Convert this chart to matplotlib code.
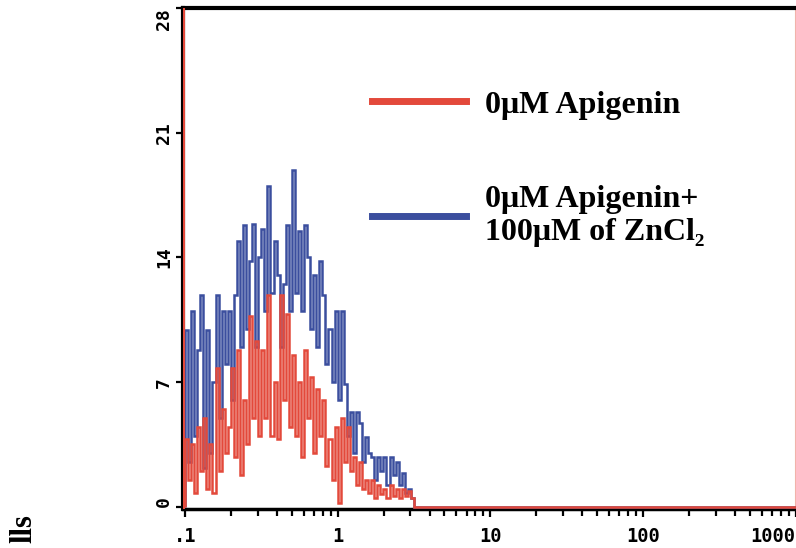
import numpy as np
import matplotlib
matplotlib.use("Agg")
import matplotlib.pyplot as plt
from matplotlib.ticker import FixedLocator, NullFormatter

# ---- data (channel counts, 50 channels per decade starting at 0.1) ----
blue_counts = [9.9, 2.5, 11, 4, 8.8,
               11.9, 2.2, 9.9, 3, 7,
               11.9, 5, 11, 8, 11,
               6, 11.9, 14.9, 9, 15.8,
               10, 13.8, 15.9, 9, 14,
               15.6, 11, 18, 12, 14.9,
               13, 9, 12.5, 15.8, 11,
               18.9, 12, 15.5, 11, 15.8,
               14, 10, 13, 9, 13.8,
               11.9, 8, 10, 7, 11,
               6, 11, 6.9, 4, 5.3,
               3, 5.3, 4.7, 2.5, 3.9,
               3, 2.8, 1.5, 2.8, 2,
               2.8, 1.2, 2.8, 1.8, 2.5,
               1.2, 1.9, 0.8, 1, 0.5]
red_counts = [3.8, 1.5, 3.5, 0.8, 4.5,
              2, 5, 1, 3.5, 0.8,
              7.8, 2, 5.5, 3, 4.5,
              7.8, 2.8, 8.8, 1.8, 6,
              3.5, 10.7, 5, 9.3, 4,
              8.8, 5, 11.9, 4, 7,
              3.8, 11.9, 6, 10.8, 4.5,
              8.5, 4, 7, 2.8, 8.8,
              5, 7.3, 3, 6.6, 4,
              6, 2.3, 3.8, 1.5, 4.5,
              0.2, 5, 2.5, 4.5, 2,
              2.8, 1.2, 2.5, 1, 1.5,
              0.8, 1.5, 0.5, 1.2, 0.7,
              1, 0.5, 1.2, 0.6, 1,
              0.5, 1, 0.6, 0.9, 0.5]
n_channels = 200            # 4 decades x 50 channels, counts beyond listed ones are 0
x_ticks = [0.1, 1, 10, 100, 1000]
x_tick_labels = [".1", "1", "10", "100", "1000"]
y_ticks = [0, 7, 14, 21, 28]
y_tick_labels = ["0", "7", "14", "21", "28"]
labels = ["0\u03bcM Apigenin", "0\u03bcM Apigenin+\n100\u03bcM of ZnCl\u2082"]
side_label = "lls"   # visible tail of the (cropped) y-axis title

RED = "#e3493b"
BLUE = "#3b4e9e"

edges = np.logspace(-1, 3, n_channels + 1)
blue = np.zeros(n_channels); blue[:len(blue_counts)] = blue_counts
red = np.zeros(n_channels); red[:len(red_counts)] = red_counts

fig = plt.figure(figsize=(7.96, 5.48), dpi=100)
ax = fig.add_axes([0.2299, 0.0712, 0.7695, 0.9142])

hb = ax.stairs(blue, edges, color=BLUE, lw=1.8, label=labels[1], zorder=3)
hr = ax.stairs(red, edges, color=RED, lw=1.8, label=labels[0], zorder=4)

ax.set_xscale("log")
ax.set_xlim(0.097, 1000)
ax.set_ylim(-0.12, 28)

# left edge red trace
ax.axvline(0.0985, color=RED, lw=1.5, zorder=5)

for s in ["left", "top"]:
    ax.spines[s].set_linewidth(3)
    ax.spines[s].set_color("black")
ax.spines["bottom"].set_linewidth(2.5)
ax.spines["right"].set_linewidth(1.5)
ax.spines["right"].set_color("#f2b3aa")

tickfont = dict(family="DejaVu Sans Mono", weight="bold")

ax.xaxis.set_major_locator(FixedLocator(x_ticks))
ax.set_xticklabels(x_tick_labels, fontsize=13.5, **tickfont)
minors = [m * d for d in [0.1, 1, 10, 100] for m in range(2, 10)]
ax.xaxis.set_minor_locator(FixedLocator(minors))
ax.xaxis.set_minor_formatter(NullFormatter())
ax.tick_params(axis="x", which="major", direction="out", length=6, width=1.6, pad=7)
ax.tick_params(axis="x", which="minor", direction="out", length=5, width=1.6)
xl = ax.get_xticklabels()
xl[-1].set_ha("right")

ax.set_yticks(y_ticks)
ax.set_yticklabels(y_tick_labels, fontsize=13, rotation=90, **tickfont)
ax.tick_params(axis="y", which="major", direction="out", length=5, width=1.6, pad=2)
yl = ax.get_yticklabels()
for t in yl:
    t.set_va("center")
yl[0].set_va("bottom")
yl[-1].set_va("top")

leg = ax.legend(handles=[hr, hb], labels=labels, loc="upper left",
                bbox_to_anchor=(0.308, 0.836), frameon=False,
                handlelength=2.95, handletextpad=0.6, labelspacing=2.05,
                borderpad=0, borderaxespad=0,
                prop=dict(family=["Liberation Serif", "DejaVu Serif"], weight="bold", size=23))
for h in leg.legend_handles:
    h.set_linewidth(5)

fig.text(0.030, 0.062, side_label, rotation=90, ha="center", va="top",
         fontsize=22, fontweight="bold", family="Liberation Serif")

fig.savefig("out.png", dpi=100)
